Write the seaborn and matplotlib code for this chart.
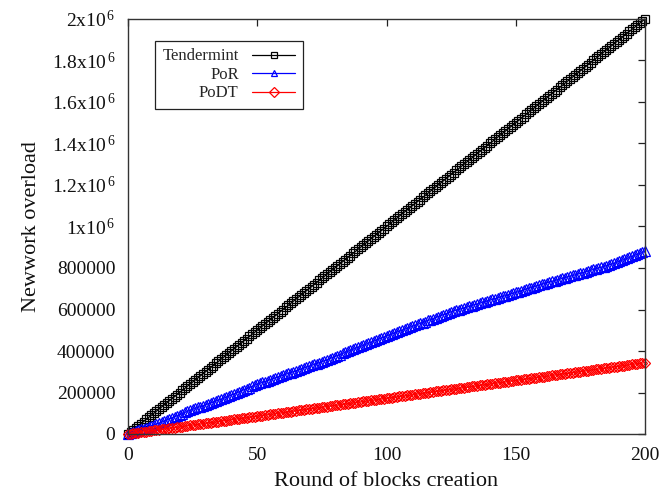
import matplotlib
matplotlib.use("Agg")
import matplotlib.pyplot as plt
from matplotlib.ticker import FixedLocator, FuncFormatter
import numpy as np
import pandas as pd
import seaborn as sns

# Network overload (in thousands) per round of block creation, rounds 0..200
rounds = list(range(0, 201))

tendermint_k = [
    0, 10, 20, 30, 40, 50, 60, 70, 80, 90, 100, 110, 120, 130, 140, 150, 160, 170, 180, 190,
    200, 210, 220, 230, 240, 250, 260, 270, 280, 290, 300, 310, 320, 330, 340, 350, 360, 370, 380, 390,
    400, 410, 420, 430, 440, 450, 460, 470, 480, 490, 500, 510, 520, 530, 540, 550, 560, 570, 580, 590,
    600, 610, 620, 630, 640, 650, 660, 670, 680, 690, 700, 710, 720, 730, 740, 750, 760, 770, 780, 790,
    800, 810, 820, 830, 840, 850, 860, 870, 880, 890, 900, 910, 920, 930, 940, 950, 960, 970, 980, 990,
    1000, 1010, 1020, 1030, 1040, 1050, 1060, 1070, 1080, 1090, 1100, 1110, 1120, 1130, 1140, 1150, 1160, 1170, 1180, 1190,
    1200, 1210, 1220, 1230, 1240, 1250, 1260, 1270, 1280, 1290, 1300, 1310, 1320, 1330, 1340, 1350, 1360, 1370, 1380, 1390,
    1400, 1410, 1420, 1430, 1440, 1450, 1460, 1470, 1480, 1490, 1500, 1510, 1520, 1530, 1540, 1550, 1560, 1570, 1580, 1590,
    1600, 1610, 1620, 1630, 1640, 1650, 1660, 1670, 1680, 1690, 1700, 1710, 1720, 1730, 1740, 1750, 1760, 1770, 1780, 1790,
    1800, 1810, 1820, 1830, 1840, 1850, 1860, 1870, 1880, 1890, 1900, 1910, 1920, 1930, 1940, 1950, 1960, 1970, 1980, 1990,
    2000,
]

por_k = [
    0, 4, 9, 13, 17, 22, 26, 30, 35, 39, 43, 48, 52,
    57, 62, 67, 73, 78, 83, 88, 93, 98, 104, 109, 114, 119,
    123, 128, 132, 136, 141, 145, 150, 154, 159, 163, 167, 172,
    177, 182, 188, 193, 198, 203, 209, 214, 219, 224, 229, 235, 240,
    244, 249, 253, 257, 262, 266, 270, 275, 279, 283, 288, 292, 296, 300, 305, 309, 313, 318, 322, 326, 331, 335, 339, 344, 348,
    353, 358, 363, 368, 373, 378, 383, 388, 393, 398, 403, 408, 413, 418, 422, 427, 432, 437, 442, 447, 452, 457, 462, 467, 472,
    477, 481, 486, 491, 495, 500, 505, 509, 514, 519, 523, 528, 533, 537, 542, 547, 551, 556, 561, 566, 570, 575, 580, 584, 589,
    593, 597, 600, 604, 608, 611, 615, 619, 623, 626, 630, 634, 637, 641, 645, 649, 652, 656, 660, 663, 667, 671, 675, 678, 682,
    686, 690, 694, 698, 702, 706, 710, 713, 717, 721, 725, 729,
    732, 736, 739, 743, 746, 750, 753, 757, 760, 764, 767, 771, 774,
    778, 782, 785, 789, 793, 796, 800, 804, 807, 811, 815, 818, 822,
    827, 832, 837, 841, 846, 851, 856, 861, 866, 870, 875, 880,
]

podt_k = [
    0, 2, 3, 5, 7, 9, 10, 12, 14, 15, 17, 19, 21, 22, 24, 26, 28, 29, 31, 33,
    34, 36, 38, 40, 41, 43, 45, 46, 48, 50, 52, 53, 55, 57, 58, 60, 62, 64, 65, 67,
    69, 71, 72, 74, 76, 77, 79, 81, 83, 84, 86, 88, 89, 91, 93, 95, 96, 98, 100, 101,
    103, 105, 107, 108, 110, 112, 114, 115, 117, 119, 120, 122, 124, 126, 127, 129, 131, 132, 134, 136,
    138, 139, 141, 143, 144, 146, 148, 150, 151, 153, 155, 157, 158, 160, 162, 163, 165, 167, 169, 170,
    172, 174, 175, 177, 179, 181, 182, 184, 186, 187, 189, 191, 193, 194, 196, 198, 200, 201, 203, 205,
    206, 208, 210, 212, 213, 215, 217, 218, 220, 222, 224, 225, 227, 229, 230, 232, 234, 236, 237, 239,
    241, 243, 244, 246, 248, 249, 251, 253, 255, 256, 258, 260, 261, 263, 265, 267, 268, 270, 272, 273,
    275, 277, 279, 280, 282, 284, 286, 287, 289, 291, 292, 294, 296, 298, 299, 301, 303, 304, 306, 308,
    310, 311, 313, 315, 316, 318, 320, 322, 323, 325, 327, 329, 330, 332, 334, 335, 337, 339, 341, 342,
    344,
]

series_names = ["Tendermint", "PoR", "PoDT"]
series_values = [tendermint_k, por_k, podt_k]
series_colors = ["black", "blue", "red"]
series_markers = ["s", "^", "D"]
series_msize = [6.4, 7.0, 5.0]

x_ticks = [0, 50, 100, 150, 200]
y_ticks = [0, 200000, 400000, 600000, 800000, 1000000, 1200000, 1400000, 1600000, 1800000, 2000000]

sns.set_theme(style="white")
plt.rcParams["font.family"] = ["Liberation Serif", "DejaVu Serif"]
plt.rcParams["mathtext.fontset"] = "custom"
plt.rcParams["mathtext.rm"] = "Liberation Serif"
plt.rcParams["mathtext.it"] = "Liberation Serif:italic"
plt.rcParams["mathtext.bf"] = "Liberation Serif:bold"

frames = []
for name, vals in zip(series_names, series_values):
    frames.append(pd.DataFrame({"round": rounds,
                                "overload": np.array(vals, dtype=float) * 1000.0,
                                "protocol": name}))
df = pd.concat(frames, ignore_index=True)

fig = plt.figure(figsize=(6.59, 4.98), dpi=100)
ax = fig.add_axes([128 / 659, 1 - 434 / 498, (645 - 128) / 659, (434 - 19) / 498])

for name, color, marker, ms in zip(series_names, series_colors, series_markers, series_msize):
    sub = df[df["protocol"] == name]
    sns.lineplot(data=sub, x="round", y="overload", ax=ax, color=color,
                 marker=marker, markersize=ms, markerfacecolor="none",
                 markeredgecolor=color, markeredgewidth=0.9, linewidth=0.9,
                 label=name, estimator=None, sort=False, clip_on=False)

ax.set_xlim(0, 200)
ax.set_ylim(0, 2000000)
ax.xaxis.set_major_locator(FixedLocator(x_ticks))
ax.yaxis.set_major_locator(FixedLocator(y_ticks))


def y_fmt(v, pos):
    if v < 1000000:
        return f"{int(round(v))}"
    return f"{v / 1e6:g}x10" + r"$^{\,6}$"


ax.yaxis.set_major_formatter(FuncFormatter(y_fmt))
ax.tick_params(axis="both", which="major", direction="in", length=5, width=0.9,
               top=True, right=True, labelsize=14, pad=9, colors="#222222",
               labelcolor="#111111")

for sp in ax.spines.values():
    sp.set_visible(True)
    sp.set_color("#333333")
    sp.set_linewidth(1.0)

ax.set_xlabel("Round of blocks creation", fontsize=16, color="#111111", labelpad=6)
ax.set_ylabel("Newwork overload", fontsize=16, color="#111111", labelpad=8)

handles, labels = ax.get_legend_handles_labels()
leg = ax.legend(handles, labels, loc="upper left", bbox_to_anchor=(0.052, 0.947),
                borderaxespad=0, markerfirst=False, numpoints=1, fontsize=12,
                handlelength=2.6, handletextpad=0.8, labelspacing=0.15,
                borderpad=0.45, frameon=True, fancybox=False, framealpha=1,
                edgecolor="#222222")
leg.get_frame().set_linewidth(0.9)
for col in leg._legend_box._children[-1]._children:
    col.align = "right"
for h in leg.legend_handles:
    h.set_markersize(5.0)

fig.savefig("out.png", dpi=100)
